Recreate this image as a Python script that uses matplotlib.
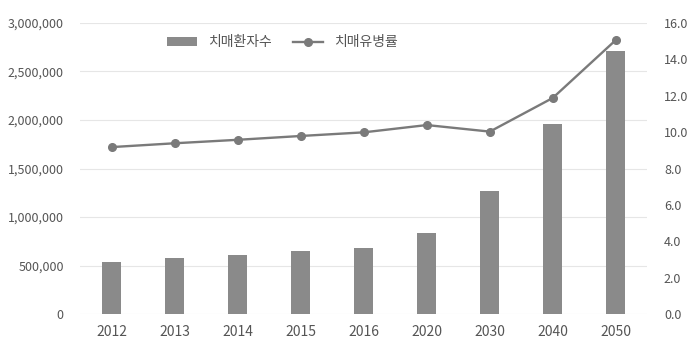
import matplotlib
matplotlib.use('Agg')
import matplotlib.pyplot as plt
from matplotlib.ticker import FuncFormatter

plt.rcParams['font.family'] = ['Noto Sans CJK KR', 'DejaVu Sans']

years      = ['2012', '2013', '2014', '2015', '2016', '2020', '2030', '2040', '2050']
patients   = [540755, 576176, 612047, 648223, 685739, 840191, 1272925, 1962331, 2710505]
prevalence = [9.18, 9.39, 9.58, 9.79, 9.99, 10.39, 10.03, 11.88, 15.06]

text_col = '#555555'

fig = plt.figure(figsize=(6.99, 3.53), dpi=100)
ax  = fig.add_axes([0.115, 0.110, 0.811, 0.825])
x   = range(len(years))

bars = ax.bar(x, patients, width=0.3, color='#8a8a8a', label='치매환자수', zorder=2)
ax.set_ylim(0, 3000000)
ax.set_xlim(-0.5, len(years) - 0.5)
ax.set_yticks(range(0, 3000001, 500000))
ax.yaxis.set_major_formatter(FuncFormatter(lambda v, p: '{:,}'.format(int(v))))
ax.set_xticks(list(x))
ax.set_xticklabels(years)
ax.grid(axis='y', color='#e6e6e6', linewidth=0.8, zorder=0)
ax.tick_params(axis='both', length=0, colors=text_col)
ax.tick_params(axis='x', labelsize=10, pad=8)
ax.tick_params(axis='y', labelsize=9, pad=12)
for s in ax.spines.values():
      s.set_visible(False)

ax2 = ax.twinx()
line, = ax2.plot(x, prevalence, color='#7a7a7a', linewidth=1.7, marker='o',
                 markersize=5.5, label='치매유병률', zorder=3)
ax2.set_ylim(0, 16)
ax2.set_yticks(range(0, 17, 2))
ax2.yaxis.set_major_formatter(FuncFormatter(lambda v, p: '{:.1f}'.format(v)))
ax2.tick_params(axis='y', length=0, colors=text_col, labelsize=9, pad=12)
for s in ax2.spines.values():
      s.set_visible(False)

leg = ax.legend([bars, line], ['치매환자수', '치매유병률'], loc='upper left',
                bbox_to_anchor=(0.13, 1.0), ncol=2, frameon=False,
                fontsize=10, handlelength=2.2, columnspacing=1.5)
for t in leg.get_texts():
      t.set_color(text_col)

fig.savefig('out.png', dpi=100)
